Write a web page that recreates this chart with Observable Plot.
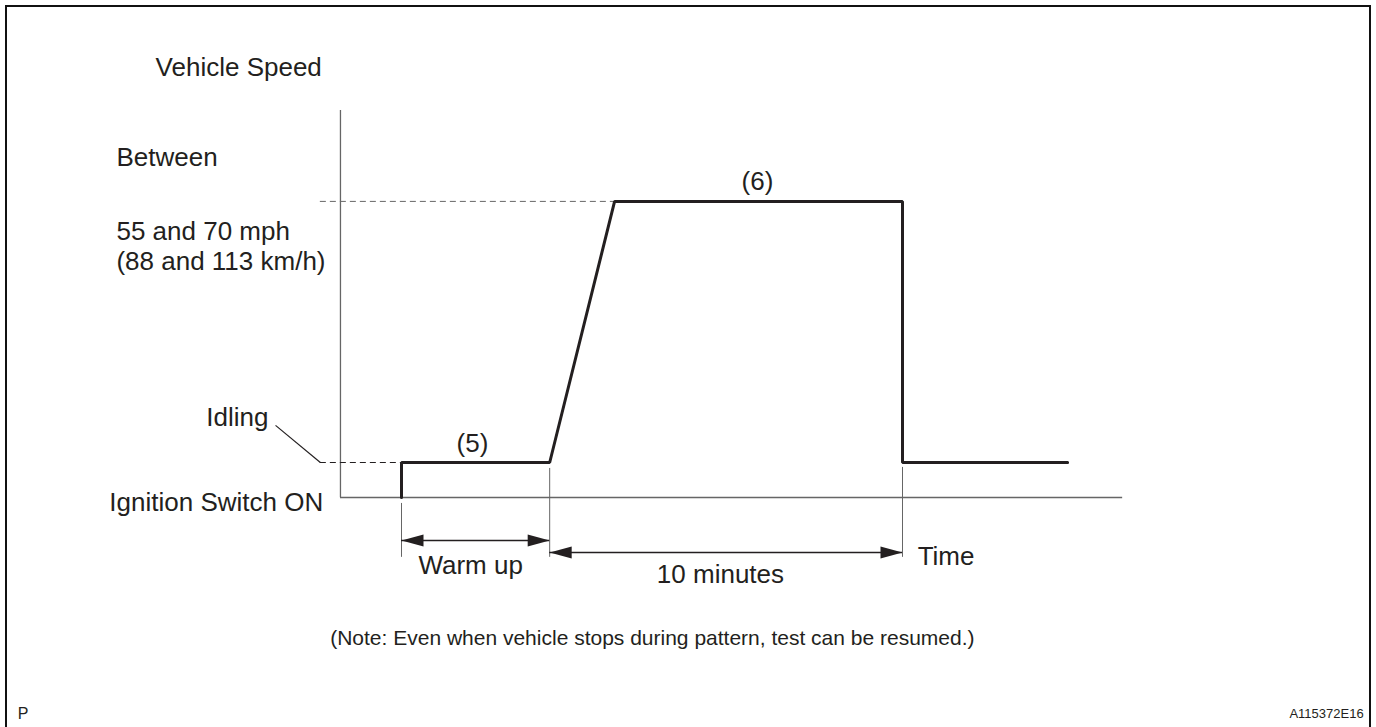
<!DOCTYPE html>
<html>
<head>
<meta charset="utf-8">
<script src="https://cdn.jsdelivr.net/npm/d3@7"></script>
<script src="https://cdn.jsdelivr.net/npm/@observablehq/plot@0.6"></script>
<style>
  html, body { margin: 0; padding: 0; background: #fff; overflow: hidden; }
  #wrap { position: relative; width: 1376px; height: 727px; }
  #frame { position: absolute; left: 5px; top: 5px; width: 1366px; height: 760px;
           border: 2.5px solid #111; box-sizing: border-box; pointer-events: none; }
  #chart { position: absolute; left: 0; top: 0; }
</style>
</head>
<body>
<div id="wrap"><div id="chart"></div><div id="frame"></div></div>
<script>
// ---- data (time in minutes from ignition ON, speed as schematic level: 0 = stopped, 1 = idling) ----
const speedTime  = [0, 0, 4.2, 6.04, 14.2, 14.2, 18.88];
const speedLevel = [0, 1, 1,   8.46, 8.46, 1,    1];

const axisTimeStart = -1.73, axisTimeEnd = 20.44, axisLevelTop = 11.06;
const guideTimeStart = -2.3;
const cruiseLevel = 8.46, idleLevel = 1;
const cruiseReachTime = 6.04;

const tickTimes = [0, 4.2, 14.2];
const tickTopLevels = [-0.17, 0.83, 0.86];
const tickBottomLevel = -1.71;

const spanStart = [0, 4.2];
const spanEnd   = [4.2, 14.2];
const spanLevel = [-1.23, -1.57];

const leaderFrom = [-3.57, 2.06];
const leaderTo   = [-2.3, 1];

const labelText  = ["Vehicle Speed", "Between", "55 and 70 mph", "(88 and 113 km/h)", "Ignition Switch ON", "(5)", "(6)", "Warm up", "10 minutes", "Time"];
const labelTime  = [-6.97, -8.08, -8.08, -8.08, -8.28, 2.01, 10.09, 1.96, 9.04, 14.63];
const labelLevel = [12.29, 9.71, 7.6, 6.74, -0.14, 1.54, 9.03, -1.94, -2.2, -1.69];
const labelAnchor = ["start", "start", "start", "start", "start", "middle", "middle", "middle", "middle", "start"];

const idlingLabel = {text: "Idling", t: -3.77, v: 2.29};
const noteLabel = {text: "(Note: Even when vehicle stops during pattern, test can be resumed.)", t: 7.11, v: -4.03};
const cornerLabels = [{text: "P", t: -10.88, v: -6.17, anchor: "start"},
                      {text: "A115372E16", t: 27.27, v: -6.17, anchor: "end"}];

// ---- build tables ----
const speed = speedTime.map((t, i) => ({t, v: speedLevel[i]}));
const ticks = tickTimes.map((t, i) => ({t, v1: tickTopLevels[i], v2: tickBottomLevel}));
const spans = spanStart.map((s, i) => ({t1: s, t2: spanEnd[i], v: spanLevel[i]}));
const heads = spans.flatMap(d => [{t: d.t1, v: d.v, dir: "left"}, {t: d.t2, v: d.v, dir: "right"}]);
const labels = labelText.map((text, i) => ({text, t: labelTime[i], v: labelLevel[i], anchor: labelAnchor[i]}));

const headLen = 22, headHalf = 6;
const rightHead = {draw(ctx) { ctx.moveTo(0, 0); ctx.lineTo(-headLen, -headHalf); ctx.lineTo(-headLen, headHalf); ctx.closePath(); }};
const leftHead  = {draw(ctx) { ctx.moveTo(0, 0); ctx.lineTo(headLen, -headHalf); ctx.lineTo(headLen, headHalf); ctx.closePath(); }};

const ink = "#231f20", axisInk = "#666";

const chart = Plot.plot({
  width: 1376, height: 727,
  marginTop: 0, marginRight: 0, marginBottom: 0, marginLeft: 0,
  x: {domain: [0, 14.2], range: [401, 902], axis: null},
  y: {domain: [0, 1], range: [497, 462], axis: null},
  style: {fontFamily: "'Liberation Sans', Arial, Helvetica, sans-serif", color: ink, background: "#fff"},
  marks: [
    // axes
    Plot.ruleY([0], {x1: axisTimeStart, x2: axisTimeEnd, stroke: axisInk, strokeWidth: 1.3}),
    Plot.ruleX([axisTimeStart], {y1: 0, y2: axisLevelTop, stroke: axisInk, strokeWidth: 1.3}),
    // dashed guides
    Plot.ruleY([cruiseLevel], {x1: guideTimeStart, x2: cruiseReachTime, stroke: axisInk, strokeWidth: 1, strokeDasharray: "6,4"}),
    Plot.ruleY([idleLevel], {x1: guideTimeStart, x2: 0, stroke: ink, strokeWidth: 1, strokeDasharray: "6,4"}),
    // leader line from "Idling"
    Plot.link([{}], {x1: leaderFrom[0], y1: leaderFrom[1], x2: leaderTo[0], y2: leaderTo[1], stroke: ink, strokeWidth: 1.2}),
    // extension ticks
    Plot.ruleX(ticks, {x: "t", y1: "v1", y2: "v2", stroke: axisInk, strokeWidth: 1}),
    // span arrows
    Plot.ruleY(spans, {y: "v", x1: "t1", x2: "t2", stroke: ink, strokeWidth: 1.5}),
    Plot.dot(heads.filter(d => d.dir === "right"), {x: "t", y: "v", symbol: rightHead, fill: ink, stroke: "none"}),
    Plot.dot(heads.filter(d => d.dir === "left"), {x: "t", y: "v", symbol: leftHead, fill: ink, stroke: "none"}),
    // speed pattern
    Plot.line(speed, {x: "t", y: "v", stroke: ink, strokeWidth: 3, strokeLinejoin: "miter", curve: "linear"}),
    // labels
    Plot.text(labels, {x: "t", y: "v", text: "text", textAnchor: "start", fontSize: 26, fill: ink, filter: d => d.anchor === "start"}),
    Plot.text(labels, {x: "t", y: "v", text: "text", textAnchor: "middle", fontSize: 26, fill: ink, filter: d => d.anchor === "middle"}),
    Plot.text([idlingLabel], {x: "t", y: "v", text: "text", textAnchor: "end", fontSize: 26, fill: ink}),
    Plot.text([noteLabel], {x: "t", y: "v", text: "text", textAnchor: "middle", fontSize: 21, fill: ink}),
    Plot.text(cornerLabels, {x: "t", y: "v", text: "text", textAnchor: "start", fontSize: 16, fill: ink, filter: d => d.anchor === "start"}),
    Plot.text(cornerLabels, {x: "t", y: "v", text: "text", textAnchor: "end", fontSize: 13, fill: ink, filter: d => d.anchor === "end"})
  ]
});
document.getElementById("chart").appendChild(chart);
</script>
</body>
</html>
